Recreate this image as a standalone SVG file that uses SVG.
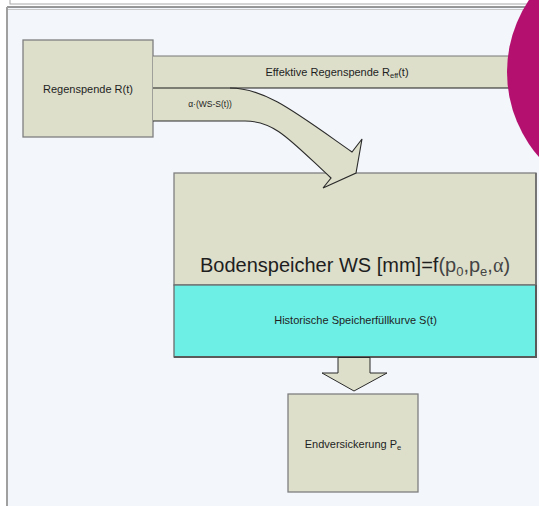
<svg xmlns="http://www.w3.org/2000/svg" width="539" height="506" viewBox="0 0 539 506">
<style>
.box{fill:#dddfca;stroke:#7f7f7f;stroke-width:1.3}
.lbl{font-family:"Liberation Sans",Arial,sans-serif;font-size:11px;fill:#1e1e1e;text-anchor:middle}
.arrow{fill:#dddfca;stroke:#2a2a2a;stroke-width:1}
</style>
<rect x="0" y="0" width="539" height="506" fill="#ffffff"/>
<rect x="10" y="-5" width="522" height="9" fill="#ffffff" stroke="#a8a8a8" stroke-width="1"/>
<rect x="7" y="7" width="540" height="505" fill="#f3f6fb"/>
<line x1="7" y1="7" x2="539" y2="7" stroke="#333" stroke-width="1.2"/>
<line x1="8" y1="9.5" x2="539" y2="9.5" stroke="#c8c8c8" stroke-width="1"/>
<line x1="7" y1="7" x2="7" y2="506" stroke="#a0a0a0" stroke-width="2"/>

<g id="regenspende">
<rect class="box" x="23" y="40" width="130" height="97"/>
<text class="lbl" x="88" y="93">Regenspende R(t)</text>
</g>

<g id="bodenspeicher">
<rect x="174" y="173" width="362" height="112" fill="#dddfca" stroke="#7f7f7f" stroke-width="1.3"/>
<line x1="536" y1="173" x2="536" y2="285" stroke="#6a6a6a" stroke-width="1.6"/>
<text x="355" y="271.5" font-family="Liberation Sans,Arial,sans-serif" font-size="20" fill="#1e1e1e" text-anchor="middle">Bodenspeicher WS [mm]=f<tspan fill="#444">(p<tspan font-size="13" dy="4">0</tspan><tspan dy="-4">,p</tspan><tspan font-size="13" dy="4">e</tspan><tspan dy="-4">,</tspan><tspan font-family="Liberation Serif,serif">α</tspan>)</tspan></text>
</g>

<g id="historische">
<rect x="174" y="285" width="362" height="72" fill="#6eefe5" stroke="#6a6a6a" stroke-width="1.3"/>
<path d="M174,357 L536,357 L536,285" fill="none" stroke="#5a5a5a" stroke-width="2"/>
<text class="lbl" x="355.5" y="324">Historische Speicherfüllkurve S(t)</text>
</g>

<g id="endversickerung">
<rect class="box" x="288" y="394" width="130" height="98"/>
<text class="lbl" x="353" y="448">Endversickerung P<tspan font-size="7.5" dy="2">e</tspan></text>
</g>

<g id="connectors">
<rect x="153" y="56" width="380" height="32" fill="#dddfca"/>
<line x1="153" y1="56" x2="533" y2="56" stroke="#777" stroke-width="1.2"/>
<text class="lbl" x="337" y="76">Effektive Regenspende R<tspan font-size="7.5" dy="2">eff</tspan><tspan dy="-2">(t)</tspan></text>
<path d="M153,88 L230,88 C265,88 295,112 352,152 L362,139 L356,173 L323,188 L331,178 C290,140 275,121 245,121 L153,121 Z" fill="#dddfca" stroke="none"/>
<path d="M153,88 L533,88" fill="none" stroke="#1a1a1a" stroke-width="1.1"/>
<path d="M230,88 C265,88 295,112 352,152 L362,139 L356,173 L323,188 L331,178 C290,140 275,121 245,121 L153,121" fill="none" stroke="#2a2a2a" stroke-width="1.1" stroke-linejoin="miter"/>
<text x="210" y="107" font-family="Liberation Sans,Arial,sans-serif" font-size="8.5" fill="#1e1e1e" text-anchor="middle">α·(WS-S(t))</text>
<polygon class="arrow" points="338,357.5 370,357.5 370,373 387,373 354,391 322,373 338,373" stroke="#444"/>
</g>

<circle cx="636" cy="72" r="129" fill="#b4106f"/>
</svg>
